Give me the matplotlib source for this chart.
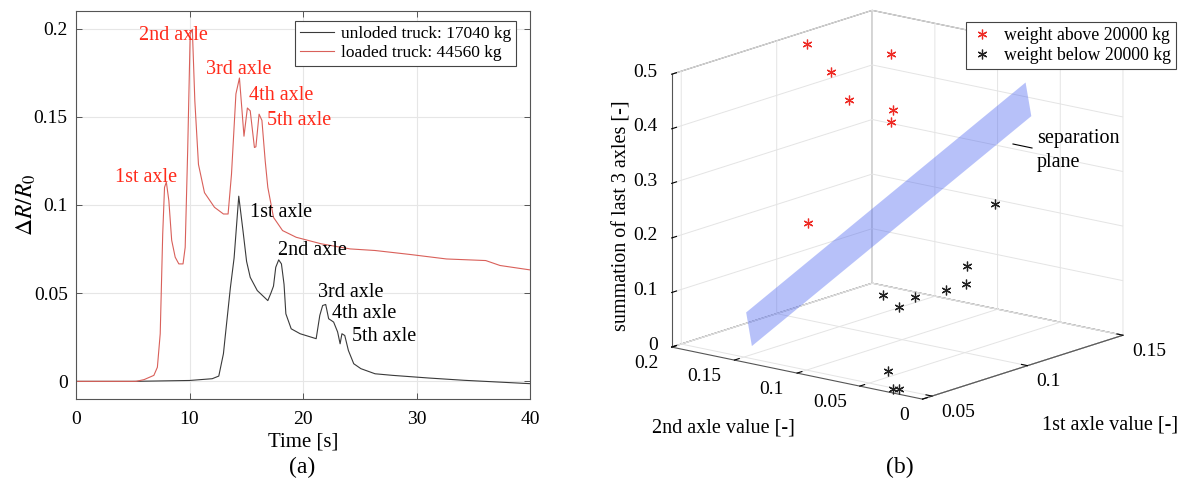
import numpy as np
import matplotlib
matplotlib.use("Agg")
import matplotlib.pyplot as plt
from mpl_toolkits.mplot3d import proj3d
from mpl_toolkits.mplot3d.art3d import Poly3DCollection
from matplotlib.lines import Line2D

# ---------------- data: panel (a) ----------------
t_unloaded = [0, 5, 10, 12.0, 12.58, 12.99, 13.14, 13.6, 13.93, 14.34, 14.72, 15.03, 15.35,
              15.97, 16.9, 17.17, 17.4, 17.6, 17.86, 18.1, 18.33, 18.49, 18.96, 19.75, 21.16,
              21.48, 21.73, 22.0, 22.26, 22.5, 22.7, 23.05, 23.27, 23.43, 23.68, 24.0, 24.47,
              25.1, 26.35, 27.9, 31.07, 34.2, 40]
v_unloaded = [0, 0, 0.0005, 0.0015, 0.003, 0.0157, 0.025, 0.053, 0.070, 0.105, 0.085, 0.068,
              0.059, 0.0515, 0.0458, 0.05, 0.054, 0.0647, 0.0689, 0.0666, 0.055, 0.0383, 0.0298,
              0.027, 0.0242, 0.0374, 0.043, 0.0436, 0.0355, 0.0345, 0.0336, 0.028, 0.0213, 0.027,
              0.026, 0.0175, 0.010, 0.0072, 0.0043, 0.0034, 0.0019, 0.0006, -0.0013]
t_loaded = [0, 2, 4, 5.3, 6.0, 6.86, 7.17, 7.42, 7.64, 7.8, 7.96, 8.18, 8.43, 8.74, 9.06, 9.43,
            9.62, 9.84, 10.06, 10.25, 10.47, 10.79, 11.32, 12.2, 12.99, 13.4, 13.7, 14.09, 14.4,
            14.65, 14.8, 15.1, 15.35, 15.72, 15.85, 16.13, 16.38, 16.67, 16.9, 17.4, 18.2, 19.4,
            21.6, 24.15, 26.35, 29.5, 32.64, 36.1, 37.36, 40]
v_loaded = [0, 0, 0, 0, 0.001, 0.0034, 0.008, 0.027, 0.0836, 0.11, 0.113, 0.1025, 0.08, 0.0704,
            0.0666, 0.0666, 0.076, 0.131, 0.197, 0.1996, 0.159, 0.123, 0.107, 0.0987, 0.0949,
            0.0949, 0.1175, 0.163, 0.172, 0.1515, 0.139, 0.155, 0.1534, 0.1326, 0.133, 0.1515,
            0.148, 0.125, 0.11, 0.093, 0.0855, 0.0817, 0.078, 0.0751, 0.0742, 0.0719, 0.0694,
            0.0685, 0.0657, 0.0632]
series_labels = ["unloded truck: 17040 kg", "loaded truck: 44560 kg"]

axle_names = ["1st axle", "2nd axle", "3rd axle", "4th axle", "5th axle"]
loaded_label_t = [3.46, 5.53, 11.48, 15.25, 16.82]
loaded_label_v = [0.1157, 0.196, 0.1766, 0.162, 0.148]
unloaded_label_t = [15.35, 17.8, 21.3, 22.58, 24.3]
unloaded_label_v = [0.0955, 0.0742, 0.0506, 0.0383, 0.0255]

xticks_a = [0, 10, 20, 30, 40]
yticks_a = [0, 0.05, 0.1, 0.15, 0.2]
yticklabels_a = ["0", "0.05", "0.1", "0.15", "0.2"]

# ---------------- data: panel (b) ----------------
above_first = [0.114, 0.107, 0.100, 0.138, 0.120, 0.113, 0.088]
above_second = [0.197, 0.167, 0.142, 0.167, 0.138, 0.129, 0.157]
above_sum = [0.48, 0.45, 0.42, 0.45, 0.38, 0.37, 0.20]
below_first = [0.118, 0.105, 0.103, 0.093, 0.080, 0.086, 0.078, 0.055, 0.0464, 0.0476]
below_second = [0.053, 0.056, 0.054, 0.054, 0.059, 0.094, 0.069, 0.043, 0.026, 0.023]
below_sum = [0.25, 0.15, 0.12, 0.12, 0.12, 0.10, 0.10, 0.02, 0.005, 0.005]
plane_first = [0.084, 0.087, 0.102, 0.099]
plane_second = [0.2, 0.2, 0.0, 0.0]
plane_sum = [0.02, -0.045, 0.455, 0.52]
group_labels = ["weight above 20000 kg", "weight below 20000 kg"]

xticks_b = [0.05, 0.1, 0.15]
xticklabels_b = ["0.05", "0.1", "0.15"]
yticks_b = [0, 0.05, 0.1, 0.15, 0.2]
yticklabels_b = ["0", "0.05", "0.1", "0.15", "0.2"]
zticks_b = [0, 0.1, 0.2, 0.3, 0.4, 0.5]
zticklabels_b = ["0", "0.1", "0.2", "0.3", "0.4", "0.5"]

# ---------------- style ----------------
W, H = 1185, 482
plt.rcParams["font.family"] = ["Liberation Serif", "DejaVu Serif"]
plt.rcParams["mathtext.fontset"] = "stix"
plt.rcParams["grid.color"] = "#e4e4e4"
plt.rcParams["grid.linewidth"] = 0.7
RED_TXT = "#ff2a1a"
RED_LINE = "#d9605a"
BLK_LINE = "#3a3a3a"
EDGE = "#555555"


def fx(px):
    return px / W


def fy(py):
    return 1 - py / H


fig = plt.figure(figsize=(W / 100, H / 100), dpi=100)

# ================= panel (a) =================
ax = fig.add_axes([fx(76), fy(399), fx(530) - fx(76), fy(11) - fy(399)])
l1, = ax.plot(t_unloaded, v_unloaded, color=BLK_LINE, lw=0.8)
l2, = ax.plot(t_loaded, v_loaded, color=RED_LINE, lw=0.8)
ax.set_xlim(0, 40)
ax.set_ylim(-0.01, 0.21)
ax.set_xticks(xticks_a)
ax.set_yticks(yticks_a)
ax.set_yticklabels(yticklabels_a)
ax.grid(True, color="#e6e6e6", lw=0.8)
ax.set_axisbelow(True)
ax.tick_params(direction="in", length=4, width=0.7, color=EDGE, top=True, right=True,
               labelsize=14, pad=6)
ax.tick_params(axis="x", pad=9)
for s in ax.spines.values():
    s.set_color(EDGE)
    s.set_linewidth(0.8)
ax.set_xlabel("Time [s]", fontsize=15, labelpad=3)
ax.set_ylabel(r"$\Delta R/R_0$", fontsize=17, labelpad=-3)
for name, tt, vv in zip(axle_names, loaded_label_t, loaded_label_v):
    ax.text(tt, vv, name, color=RED_TXT, fontsize=14.5, va="center", ha="left")
for name, tt, vv in zip(axle_names, unloaded_label_t, unloaded_label_v):
    ax.text(tt, vv, name, color="black", fontsize=14.5, va="center", ha="left")
leg = ax.legend([l1, l2], series_labels, loc="upper right",
                bbox_to_anchor=((516 - 76) / 454, (399 - 21) / 388), borderaxespad=0,
                fontsize=12.5, fancybox=False, edgecolor="#444444", framealpha=1,
                handlelength=2.0, handletextpad=0.35, borderpad=0.3, labelspacing=0.15)
leg.get_frame().set_linewidth(0.8)

fig.text(fx(302), fy(467), "(a)", fontsize=17, ha="center", va="center")

# ================= panel (b) =================
ax3 = fig.add_axes([0.55, 0.05, 0.4, 0.9], projection="3d", proj_type="ortho")
ax3.view_init(elev=14.9, azim=-141.1)
ax3.set_box_aspect((320, 323, 283))
x_lo, x_hi = 0.045, 0.15
y_lo, y_hi = 0.0, 0.2
z_lo, z_hi = 0.0, 0.5
ax3.set_xlim(x_lo, x_hi)
ax3.set_ylim(y_lo, y_hi)
ax3.set_zlim(z_lo, z_hi)

poly = Poly3DCollection([list(zip(plane_first, plane_second, plane_sum))],
                        facecolor=(0.3, 0.4, 0.95, 0.4), edgecolor="none")
ax3.add_collection3d(poly)
h1, = ax3.plot(above_first, above_second, above_sum, ls="none", marker=(6, 2, 0),
               ms=7, mew=0.9, color="#ee2b25")
h2, = ax3.plot(below_first, below_second, below_sum, ls="none", marker=(6, 2, 0),
               ms=7, mew=0.9, color="#222222")

ax3.set_xticks(xticks_b)
ax3.set_yticks(yticks_b)
ax3.set_zticks(zticks_b)
ax3.set_xticklabels([])
ax3.set_yticklabels([])
ax3.set_zticklabels([])
for axis in (ax3.xaxis, ax3.yaxis, ax3.zaxis):
    axis.set_pane_color((1, 1, 1, 1))
    axis.pane.set_edgecolor("#666666")
    axis.pane.set_linewidth(0.8)
    axis.line.set_color("#555555")
    axis.line.set_linewidth(0.8)
    axis._axinfo["grid"]["color"] = "#e4e4e4"
    axis._axinfo["grid"]["linewidth"] = 0.7
    axis._axinfo["tick"]["inward_factor"] = 0.0
    axis._axinfo["tick"]["outward_factor"] = 0.3
ax3.set_xlabel("")
ax3.set_ylabel("")
ax3.set_zlabel("")

leg3 = ax3.legend([h1, h2], group_labels, loc="upper right",
                  bbox_to_anchor=(fx(1176), fy(22)), bbox_transform=fig.transFigure,
                  borderaxespad=0, fontsize=12.8, fancybox=False, edgecolor="#444444",
                  framealpha=1, handlelength=1.2, handletextpad=0.6, borderpad=0.3,
                  labelspacing=0.15)
leg3.get_frame().set_linewidth(0.8)

# --- fit the projected box onto the reference layout ---
corner_3d = np.array([[x_lo, y_lo, z_lo],   # front bottom
                      [x_lo, y_hi, z_lo],   # left bottom
                      [x_hi, y_lo, z_lo],   # right bottom
                      [x_hi, y_hi, z_hi],   # back top
                      [x_lo, y_hi, z_hi]])  # left top
corner_target_px = np.array([[923, 399], [672, 347], [1124, 335], [870, 11], [672, 74]], float)
target = np.column_stack([corner_target_px[:, 0], H - corner_target_px[:, 1]])


def project_px(xs, ys, zs):
    M = ax3.get_proj()
    X, Y, _ = proj3d.proj_transform(np.asarray(xs, float), np.asarray(ys, float),
                                    np.asarray(zs, float), M)
    return ax3.transData.transform(np.column_stack([X, Y]))


def measure():
    fig.canvas.draw()
    pts = project_px(corner_3d[:, 0], corner_3d[:, 1], corner_3d[:, 2])
    bb = ax3.get_position(original=False)
    c = np.array([(bb.x0 + bb.x1) / 2 * W, (bb.y0 + bb.y1) / 2 * H])
    side = bb.width * W
    return pts, c, side


for _ in range(2):
    pts, c0, side0 = measure()
    pm, qm = pts.mean(0), target.mean(0)
    s = np.sum((pts - pm) * (target - qm)) / np.sum((pts - pm) ** 2)
    c1 = qm - s * (pm - c0)
    side1 = s * side0
    ax3.set_position([(c1[0] - side1 / 2) / W, (c1[1] - side1 / 2) / H, side1 / W, side1 / H])
fig.canvas.draw()

# tick labels placed next to the projected tick positions
TL = 14
zp = project_px([x_lo] * len(zticks_b), [y_hi] * len(zticks_b), zticks_b)
for (px_, py_), lab in zip(zp, zticklabels_b):
    fig.text((px_ - 14) / W, (py_ + 2) / H, lab, fontsize=TL, ha="right", va="center")
yp = project_px([x_lo] * len(yticks_b), yticks_b, [z_lo] * len(yticks_b))
for (px_, py_), lab in zip(yp, yticklabels_b):
    fig.text((px_ - 13) / W, (py_ - 16) / H, lab, fontsize=TL, ha="right", va="center")
xp = project_px(xticks_b, [y_lo] * len(xticks_b), [z_lo] * len(xticks_b))
for (px_, py_), lab in zip(xp, xticklabels_b):
    fig.text((px_ + 9) / W, (py_ - 16) / H, lab, fontsize=TL, ha="left", va="center")

fig.text(fx(622), fy(216), "summation of last 3 axles [-]", rotation=90, fontsize=14.5,
         ha="center", va="center")
fig.text(fx(723), fy(428), "2nd axle value [-]", fontsize=14.5, ha="center", va="center")
fig.text(fx(1110), fy(425), "1st axle value [-]", fontsize=14.5, ha="center", va="center")
fig.text(fx(1037), fy(138), "separation", fontsize=14.5, ha="left", va="center")
fig.text(fx(1037), fy(163), "plane", fontsize=14.5, ha="left", va="center")
fig.add_artist(Line2D([fx(1013), fx(1032)], [fy(144), fy(148)], color="black", lw=0.8))
fig.text(fx(900), fy(467), "(b)", fontsize=17, ha="center", va="center")

fig.savefig("out.png", dpi=100)
